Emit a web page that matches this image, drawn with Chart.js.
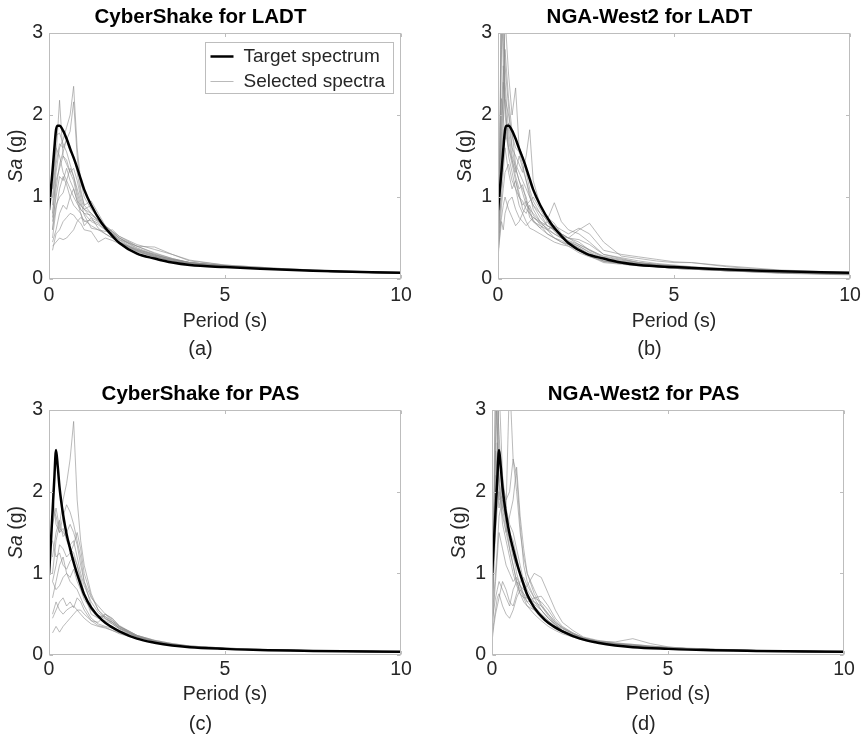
<!DOCTYPE html>
<html>
<head>
<meta charset="utf-8">
<script src="https://cdn.jsdelivr.net/npm/chart.js@4.4.1/dist/chart.umd.min.js"></script>
<style>
  body { margin: 0; background: #fff; overflow: hidden; width: 861px; height: 738px; position: relative; }
  canvas { position: absolute; }
</style>
</head>
<body>
<canvas id="pa" width="450" height="362" style="left:0;top:0"></canvas>
<canvas id="pb" width="450" height="362" style="left:449px;top:0"></canvas>
<canvas id="pc" width="450" height="361" style="left:0;top:377px"></canvas>
<canvas id="pd" width="450" height="361" style="left:443px;top:377px"></canvas>
<script>
// axis ticks
var tickX = [0, 5, 10];
var tickY = [0, 1, 2, 3];

// target spectra
var targetPeriods = [0, 0.05, 0.1, 0.15, 0.2, 0.25, 0.3, 0.4, 0.5, 0.6, 0.75, 0.9, 1.0, 1.2, 1.5, 1.75, 2.0, 2.5, 3.0, 3.5, 4.0, 5.0, 6.0, 7.5, 10];
var targetLADT = [0.84, 1.08, 1.32, 1.58, 1.82, 1.87, 1.87, 1.81, 1.71, 1.59, 1.42, 1.22, 1.09, 0.9, 0.68, 0.55, 0.44, 0.31, 0.25, 0.2, 0.17, 0.145, 0.125, 0.1, 0.075];
var targetPAS = [0.98, 1.35, 1.75, 2.15, 2.51, 2.3, 2.05, 1.72, 1.48, 1.3, 1.06, 0.86, 0.74, 0.58, 0.43, 0.35, 0.29, 0.2, 0.15, 0.115, 0.095, 0.075, 0.06, 0.05, 0.04];

// periods of the selected records
var csPeriods = [0.1, 0.2, 0.3, 0.4, 0.5, 0.6, 0.7, 0.8, 0.9, 1.0, 1.2, 1.4, 1.6, 1.8, 2.0, 2.5, 3.0, 3.5, 4.0, 5.0, 6.5, 8.0, 10];
var ngaPeriods = [0.01, 0.05, 0.1, 0.15, 0.2, 0.3, 0.4, 0.5, 0.6, 0.7, 0.8, 0.9, 1.0, 1.2, 1.4, 1.6, 1.8, 2.0, 2.3, 2.6, 3.0, 3.5, 4.0, 4.5, 5.0, 5.5, 6.5, 8.0, 10];

// (a) CyberShake for LADT
var csLADT = [
  [0.75, 1.3, 1.6, 1.7, 1.85, 2.0, 2.35, 1.6, 1.2, 1.0, 0.85, 0.75, 0.6, 0.52, 0.45, 0.35, 0.28, 0.23, 0.2, 0.16, 0.12, 0.095, 0.075],
  [1.0, 1.5, 2.18, 1.5, 1.45, 1.3, 1.2, 1.0, 0.85, 0.8, 0.7, 0.66, 0.6, 0.52, 0.45, 0.33, 0.27, 0.22, 0.19, 0.15, 0.12, 0.09, 0.07],
  [0.6, 1.1, 1.4, 1.55, 1.7, 1.8, 2.16, 1.5, 1.1, 0.9, 0.8, 0.7, 0.62, 0.55, 0.48, 0.36, 0.29, 0.24, 0.2, 0.16, 0.125, 0.095, 0.075],
  [1.2, 1.75, 1.78, 1.65, 1.55, 1.4, 1.25, 1.05, 0.9, 0.85, 0.75, 0.7, 0.62, 0.55, 0.47, 0.34, 0.27, 0.22, 0.19, 0.155, 0.12, 0.09, 0.07],
  [0.9, 1.4, 1.65, 1.6, 1.7, 1.55, 1.5, 1.3, 1.05, 0.9, 0.95, 0.8, 0.65, 0.58, 0.5, 0.38, 0.3, 0.24, 0.2, 0.16, 0.12, 0.095, 0.075],
  [0.8, 1.2, 1.35, 1.5, 1.4, 1.3, 1.35, 1.2, 1.0, 0.85, 0.8, 0.72, 0.62, 0.56, 0.5, 0.4, 0.32, 0.25, 0.2, 0.16, 0.12, 0.09, 0.07],
  [0.7, 1.0, 1.25, 1.2, 1.35, 1.2, 1.1, 0.95, 0.9, 0.85, 0.9, 0.75, 0.65, 0.58, 0.52, 0.42, 0.36, 0.3, 0.22, 0.17, 0.13, 0.1, 0.08],
  [0.5, 0.85, 1.1, 1.25, 1.15, 1.0, 0.9, 0.85, 0.8, 0.7, 0.72, 0.68, 0.6, 0.55, 0.48, 0.4, 0.39, 0.3, 0.23, 0.17, 0.13, 0.1, 0.08],
  [0.45, 0.6, 0.8, 0.9, 0.85, 1.0, 1.1, 0.95, 0.8, 0.65, 0.75, 0.62, 0.55, 0.5, 0.44, 0.35, 0.28, 0.22, 0.19, 0.155, 0.12, 0.09, 0.07],
  [0.4, 0.45, 0.5, 0.48, 0.5, 0.55, 0.6, 0.7, 0.75, 0.72, 0.65, 0.6, 0.55, 0.5, 0.45, 0.36, 0.3, 0.23, 0.19, 0.15, 0.12, 0.09, 0.07],
  [0.35, 0.55, 0.6, 0.7, 0.75, 0.8, 0.78, 0.72, 0.68, 0.6, 0.58, 0.45, 0.5, 0.47, 0.43, 0.34, 0.27, 0.22, 0.18, 0.15, 0.115, 0.09, 0.07],
  [1.1, 1.6, 1.5, 1.3, 1.2, 1.1, 1.0, 0.92, 0.85, 0.8, 0.78, 0.72, 0.64, 0.57, 0.5, 0.37, 0.29, 0.24, 0.2, 0.16, 0.12, 0.095, 0.075],
  [0.6, 0.9, 1.0, 1.05, 1.2, 1.35, 1.25, 1.1, 0.95, 0.78, 0.62, 0.6, 0.58, 0.6, 0.52, 0.4, 0.31, 0.25, 0.2, 0.16, 0.12, 0.09, 0.07]
];

// (b) NGA-West2 for LADT
var ngaLADT = [
  [0.6, 1.2, 3.4, 2.6, 2.0, 1.6, 1.4, 1.2, 1.0, 0.95, 0.85, 0.8, 0.75, 0.7, 0.6, 0.5, 0.45, 0.4, 0.32, 0.27, 0.22, 0.19, 0.17, 0.15, 0.13, 0.12, 0.1, 0.08, 0.06],
  [0.7, 1.5, 2.8, 3.5, 2.4, 1.8, 1.5, 1.35, 1.2, 1.05, 0.9, 0.85, 0.7, 0.62, 0.7, 0.58, 0.5, 0.45, 0.38, 0.3, 0.22, 0.2, 0.18, 0.16, 0.14, 0.13, 0.11, 0.08, 0.06],
  [0.5, 0.9, 1.6, 2.2, 3.2, 2.5, 2.0, 2.33, 1.6, 1.5, 1.3, 1.1, 0.95, 0.8, 0.65, 0.6, 0.55, 0.5, 0.42, 0.35, 0.26, 0.22, 0.19, 0.17, 0.15, 0.13, 0.11, 0.085, 0.065],
  [0.8, 1.3, 2.2, 2.0, 1.7, 1.9, 1.6, 1.5, 1.4, 1.3, 1.5, 1.82, 1.2, 0.9, 0.75, 0.68, 0.55, 0.5, 0.45, 0.35, 0.28, 0.24, 0.2, 0.18, 0.16, 0.14, 0.11, 0.085, 0.065],
  [0.4, 0.7, 1.2, 1.5, 1.8, 1.6, 1.45, 1.3, 1.5, 1.35, 1.2, 1.0, 0.9, 0.8, 0.72, 0.93, 0.7, 0.6, 0.55, 0.45, 0.3, 0.25, 0.2, 0.17, 0.15, 0.13, 0.11, 0.085, 0.065],
  [0.3, 0.55, 0.9, 1.1, 1.3, 1.4, 1.2, 1.1, 1.0, 0.9, 0.95, 0.85, 0.8, 0.7, 0.65, 0.6, 0.52, 0.5, 0.6, 0.68, 0.45, 0.28, 0.25, 0.22, 0.2, 0.2, 0.15, 0.1, 0.07],
  [0.65, 1.0, 1.8, 2.4, 2.1, 1.7, 1.45, 1.25, 1.1, 1.15, 0.95, 0.75, 0.7, 0.65, 0.6, 0.65, 0.6, 0.55, 0.62, 0.55, 0.35, 0.3, 0.27, 0.24, 0.21, 0.2, 0.16, 0.11, 0.08],
  [0.55, 0.8, 1.0, 1.3, 1.6, 1.3, 1.1, 1.2, 1.05, 0.85, 0.8, 0.9, 0.78, 0.66, 0.55, 0.5, 0.47, 0.42, 0.38, 0.3, 0.24, 0.21, 0.19, 0.17, 0.15, 0.14, 0.12, 0.09, 0.07],
  [0.75, 1.4, 3.6, 2.9, 2.2, 1.5, 1.3, 1.1, 0.9, 0.8, 0.7, 0.62, 0.6, 0.55, 0.5, 0.45, 0.42, 0.4, 0.35, 0.28, 0.2, 0.18, 0.16, 0.15, 0.13, 0.12, 0.1, 0.075, 0.055],
  [0.45, 0.6, 0.75, 0.9, 1.0, 0.85, 0.75, 0.65, 0.7, 0.8, 0.9, 0.95, 1.0, 0.85, 0.7, 0.6, 0.55, 0.5, 0.48, 0.42, 0.3, 0.26, 0.22, 0.19, 0.17, 0.15, 0.12, 0.09, 0.07],
  [0.6, 1.1, 2.0, 2.6, 2.2, 2.0, 1.75, 1.6, 1.55, 1.4, 1.2, 1.05, 0.85, 0.7, 0.6, 0.55, 0.5, 0.45, 0.4, 0.33, 0.25, 0.2, 0.18, 0.16, 0.14, 0.13, 0.1, 0.08, 0.06],
  [0.35, 0.5, 0.7, 0.6, 0.8, 0.95, 1.0, 0.85, 0.75, 0.7, 0.65, 0.7, 0.75, 0.68, 0.62, 0.55, 0.5, 0.46, 0.4, 0.32, 0.22, 0.19, 0.17, 0.15, 0.13, 0.12, 0.1, 0.075, 0.055],
  [0.5, 0.9, 1.4, 1.9, 2.8, 2.2, 1.8, 1.4, 1.3, 1.2, 1.1, 1.0, 0.9, 0.75, 0.65, 0.6, 0.52, 0.47, 0.42, 0.36, 0.27, 0.23, 0.2, 0.18, 0.16, 0.14, 0.11, 0.085, 0.065],
  [0.7, 1.6, 3.8, 3.2, 2.6, 2.1, 1.6, 1.35, 1.2, 1.1, 1.0, 0.8, 0.72, 0.62, 0.55, 0.5, 0.45, 0.42, 0.36, 0.29, 0.21, 0.19, 0.17, 0.15, 0.13, 0.12, 0.1, 0.07, 0.05]
];

// (c) CyberShake for PAS
var csPAS = [
  [1.0, 1.4, 1.6, 1.9, 2.1, 2.4, 2.86, 1.9, 1.4, 1.1, 0.75, 0.55, 0.45, 0.38, 0.32, 0.22, 0.17, 0.13, 0.11, 0.085, 0.06, 0.05, 0.04],
  [2.0, 1.6, 1.5, 1.7, 1.84, 1.75, 1.6, 1.4, 1.2, 0.9, 0.7, 0.6, 0.5, 0.42, 0.35, 0.24, 0.18, 0.14, 0.11, 0.085, 0.06, 0.05, 0.04],
  [1.6, 1.8, 1.55, 1.5, 1.45, 1.35, 1.4, 1.2, 1.0, 0.85, 0.65, 0.52, 0.45, 0.4, 0.33, 0.23, 0.17, 0.13, 0.105, 0.08, 0.06, 0.05, 0.04],
  [1.2, 1.5, 1.65, 1.45, 1.5, 1.6, 1.5, 1.35, 1.1, 0.9, 0.6, 0.48, 0.44, 0.4, 0.34, 0.23, 0.17, 0.13, 0.105, 0.08, 0.06, 0.05, 0.04],
  [0.9, 1.1, 1.35, 1.3, 1.2, 1.25, 1.35, 1.5, 1.3, 1.0, 0.72, 0.55, 0.47, 0.4, 0.33, 0.23, 0.17, 0.13, 0.105, 0.08, 0.06, 0.05, 0.04],
  [1.4, 1.2, 1.25, 1.1, 1.05, 1.15, 1.2, 1.1, 0.95, 0.75, 0.5, 0.45, 0.5, 0.44, 0.36, 0.24, 0.18, 0.14, 0.11, 0.085, 0.06, 0.05, 0.04],
  [0.7, 0.9, 1.1, 1.2, 1.0, 0.95, 1.05, 0.9, 0.8, 0.68, 0.55, 0.48, 0.47, 0.42, 0.35, 0.24, 0.17, 0.13, 0.105, 0.08, 0.06, 0.05, 0.04],
  [0.9, 0.8, 0.85, 0.95, 1.0, 0.9, 0.85, 0.8, 0.7, 0.6, 0.45, 0.38, 0.35, 0.33, 0.3, 0.22, 0.17, 0.13, 0.105, 0.08, 0.06, 0.045, 0.035],
  [0.45, 0.55, 0.65, 0.7, 0.6, 0.65, 0.58, 0.7, 0.65, 0.55, 0.42, 0.4, 0.5, 0.45, 0.35, 0.22, 0.16, 0.12, 0.1, 0.075, 0.055, 0.045, 0.035],
  [0.5, 0.65, 0.55, 0.5, 0.55, 0.58, 0.6, 0.55, 0.5, 0.45, 0.38, 0.35, 0.33, 0.3, 0.26, 0.2, 0.15, 0.12, 0.1, 0.075, 0.055, 0.045, 0.035],
  [0.27, 0.35, 0.28, 0.35, 0.4, 0.45, 0.5, 0.55, 0.55, 0.5, 0.42, 0.36, 0.34, 0.3, 0.27, 0.2, 0.15, 0.12, 0.1, 0.075, 0.055, 0.045, 0.035],
  [1.8, 1.7, 1.5, 1.55, 1.4, 1.3, 1.25, 1.1, 0.9, 0.75, 0.55, 0.45, 0.42, 0.38, 0.32, 0.22, 0.17, 0.13, 0.105, 0.08, 0.06, 0.045, 0.035]
];

// (d) NGA-West2 for PAS
var ngaPAS = [
  [0.9, 1.8, 3.5, 2.8, 2.2, 1.8, 1.5, 1.3, 1.1, 0.9, 0.8, 0.7, 0.6, 0.5, 0.42, 0.35, 0.3, 0.26, 0.22, 0.18, 0.15, 0.12, 0.1, 0.09, 0.08, 0.07, 0.06, 0.045, 0.035],
  [0.7, 1.5, 2.6, 3.6, 2.5, 1.9, 1.7, 1.5, 1.25, 1.0, 0.85, 0.75, 0.65, 0.55, 0.45, 0.38, 0.32, 0.28, 0.24, 0.2, 0.16, 0.13, 0.11, 0.1, 0.085, 0.075, 0.06, 0.045, 0.035],
  [0.5, 1.2, 2.0, 2.4, 3.3, 2.2, 1.8, 3.4, 2.4, 2.0, 1.5, 1.2, 1.0, 0.75, 0.6, 0.48, 0.38, 0.32, 0.26, 0.21, 0.17, 0.14, 0.12, 0.1, 0.09, 0.08, 0.065, 0.05, 0.04],
  [1.0, 1.6, 2.2, 2.0, 1.8, 2.1, 1.9, 2.0, 2.4, 2.2, 1.6, 1.1, 0.9, 0.7, 0.55, 0.45, 0.37, 0.3, 0.25, 0.2, 0.16, 0.13, 0.11, 0.1, 0.085, 0.075, 0.06, 0.045, 0.035],
  [0.6, 1.0, 1.5, 1.8, 2.0, 1.7, 1.5, 1.7, 1.9, 2.3, 1.7, 1.3, 1.0, 0.8, 0.62, 0.5, 0.4, 0.34, 0.27, 0.21, 0.17, 0.14, 0.12, 0.1, 0.09, 0.08, 0.065, 0.05, 0.04],
  [0.35, 0.6, 0.9, 1.2, 1.5, 1.3, 1.1, 1.0, 0.9, 0.95, 0.85, 0.8, 0.85, 1.0, 0.95, 0.75, 0.55, 0.4, 0.3, 0.22, 0.18, 0.15, 0.13, 0.11, 0.095, 0.085, 0.07, 0.05, 0.04],
  [0.8, 1.4, 2.4, 3.2, 2.7, 2.0, 1.6, 1.4, 1.2, 1.1, 1.0, 0.85, 0.75, 0.62, 0.55, 0.45, 0.38, 0.3, 0.24, 0.2, 0.16, 0.14, 0.13, 0.11, 0.09, 0.08, 0.065, 0.05, 0.04],
  [0.45, 0.7, 1.0, 1.3, 1.7, 1.9, 1.6, 1.3, 1.1, 0.9, 0.75, 0.7, 0.7, 0.65, 0.6, 0.5, 0.4, 0.33, 0.26, 0.2, 0.17, 0.16, 0.2, 0.14, 0.1, 0.08, 0.065, 0.05, 0.04],
  [0.25, 0.4, 0.55, 0.7, 0.75, 0.6, 0.5, 0.45, 0.55, 0.7, 0.8, 0.75, 0.7, 0.6, 0.5, 0.42, 0.35, 0.3, 0.24, 0.19, 0.15, 0.13, 0.11, 0.1, 0.085, 0.075, 0.06, 0.045, 0.035],
  [0.4, 0.55, 0.7, 0.8, 0.9, 0.8, 0.7, 0.6, 0.8, 0.9, 0.85, 0.72, 0.65, 0.7, 0.65, 0.55, 0.42, 0.33, 0.26, 0.2, 0.16, 0.13, 0.11, 0.1, 0.085, 0.075, 0.06, 0.045, 0.035],
  [0.6, 1.3, 3.2, 2.9, 2.1, 1.6, 1.4, 1.2, 1.0, 0.85, 0.75, 0.65, 0.6, 0.55, 0.48, 0.4, 0.33, 0.28, 0.23, 0.19, 0.15, 0.12, 0.1, 0.09, 0.08, 0.07, 0.055, 0.04, 0.03],
  [0.2, 0.35, 0.5, 0.6, 0.7, 0.9, 0.8, 0.65, 0.6, 0.75, 0.9, 0.95, 0.85, 0.7, 0.72, 0.6, 0.45, 0.35, 0.27, 0.21, 0.17, 0.14, 0.12, 0.1, 0.09, 0.08, 0.065, 0.05, 0.04],
  [0.9, 1.7, 2.5, 2.2, 1.9, 1.95, 1.8, 1.6, 1.5, 1.3, 1.1, 0.9, 0.8, 0.65, 0.55, 0.45, 0.37, 0.3, 0.24, 0.19, 0.15, 0.13, 0.11, 0.1, 0.085, 0.075, 0.06, 0.045, 0.035],
  [0.5, 1.1, 1.9, 2.6, 2.1, 1.8, 1.7, 1.5, 1.4, 1.2, 1.0, 0.85, 0.7, 0.58, 0.5, 0.42, 0.35, 0.3, 0.24, 0.19, 0.15, 0.12, 0.1, 0.09, 0.08, 0.07, 0.055, 0.045, 0.035]
];

var FONT = '"Liberation Sans", Arial, Helvetica, sans-serif';
var TEXT = '#262626';
var AXIS_SIZE = 19.5;

function toPoints(periods, vals) {
  return periods.map(function (t, i) { return { x: t, y: vals[i] }; });
}

// box, inward ticks, y label and the legend, MATLAB style
var framePlugin = {
  id: 'frame',
  afterDraw: function (chart, args, opts) {
    var ctx = chart.ctx, a = chart.chartArea;
    var sx = chart.scales.x, sy = chart.scales.y;
    var l = Math.round(a.left) + 0.5, r = Math.round(a.right) - 0.5;
    var t = Math.round(a.top) + 0.5, b = Math.round(a.bottom) - 0.5;
    ctx.save();
    ctx.strokeStyle = '#bdbdbd';
    ctx.lineWidth = 1;
    ctx.strokeRect(l, t, r - l, b - t);
    ctx.beginPath();
    tickX.forEach(function (v) {
      var px = Math.round(sx.getPixelForValue(v)) + 0.5;
      ctx.moveTo(px, b); ctx.lineTo(px, b - 3.5);
      ctx.moveTo(px, t); ctx.lineTo(px, t + 3.5);
    });
    tickY.forEach(function (v) {
      var py = Math.round(sy.getPixelForValue(v)) + 0.5;
      ctx.moveTo(l, py); ctx.lineTo(l + 3.5, py);
      ctx.moveTo(r, py); ctx.lineTo(r - 3.5, py);
    });
    ctx.stroke();

    // y axis label: italic Sa, upright (g)
    ctx.translate(16.5, (a.top + a.bottom) / 2);
    ctx.rotate(-Math.PI / 2);
    ctx.fillStyle = TEXT;
    ctx.textBaseline = 'middle';
    var f1 = 'italic ' + AXIS_SIZE + 'px ' + FONT, f2 = AXIS_SIZE + 'px ' + FONT;
    ctx.font = f1; var w1 = ctx.measureText('Sa').width;
    ctx.font = f2; var w2 = ctx.measureText(' (g)').width;
    var x0 = -(w1 + w2) / 2;
    ctx.font = f1; ctx.fillText('Sa', x0, 0);
    ctx.font = f2; ctx.fillText(' (g)', x0 + w1, 0);
    ctx.setTransform(1, 0, 0, 1, 0, 0);

    if (opts.legend) {
      var bw = 188, bh = 51;
      var bx = Math.round(a.right) - 8 - bw + 0.5, by = Math.round(a.top) + 9 + 0.5;
      ctx.fillStyle = '#fff';
      ctx.fillRect(bx, by, bw, bh);
      ctx.strokeStyle = '#bdbdbd';
      ctx.strokeRect(bx, by, bw, bh);
      ctx.lineWidth = 2.5; ctx.strokeStyle = '#000';
      ctx.beginPath(); ctx.moveTo(bx + 5, by + 14); ctx.lineTo(bx + 28, by + 14); ctx.stroke();
      ctx.lineWidth = 1; ctx.strokeStyle = 'rgba(140,140,140,0.6)';
      ctx.beginPath(); ctx.moveTo(bx + 5, by + 39); ctx.lineTo(bx + 28, by + 39); ctx.stroke();
      ctx.fillStyle = TEXT;
      ctx.font = '19px ' + FONT;
      ctx.textBaseline = 'middle';
      ctx.fillText('Target spectrum', bx + 38, by + 14);
      ctx.fillText('Selected spectra', bx + 38, by + 39);
    }
    ctx.restore();
  }
};

function makePanel(id, title, tag, target, periods, records, row, legend) {
  var datasets = [{
    data: toPoints(targetPeriods, target),
    borderColor: '#000',
    borderWidth: 2.5,
    pointRadius: 0,
    cubicInterpolationMode: 'monotone',
    order: 0
  }];
  records.forEach(function (vals) {
    datasets.push({
      data: toPoints(periods, vals),
      borderColor: 'rgba(140,140,140,0.6)',
      borderWidth: 1,
      pointRadius: 0,
      tension: 0,
      order: 1
    });
  });

  new Chart(document.getElementById(id), {
    type: 'line',
    data: { datasets: datasets },
    options: {
      responsive: false,
      animation: false,
      devicePixelRatio: 1,
      layout: { padding: { left: 0, right: 49, top: 0, bottom: 0 } },
      plugins: {
        legend: { display: false },
        tooltip: { enabled: false },
        title: {
          display: true,
          text: title,
          color: '#000',
          font: { family: FONT, size: 20.5, weight: 'bold', lineHeight: 1 },
          padding: { top: 7.25, bottom: 5.25 }
        },
        subtitle: {
          display: true,
          position: 'bottom',
          text: tag,
          color: TEXT,
          font: { family: FONT, size: 20, lineHeight: 1 },
          padding: { top: row.subTop, bottom: row.subBottom }
        },
        frame: { legend: legend }
      },
      scales: {
        x: {
          type: 'linear',
          min: 0,
          max: 10,
          ticks: { stepSize: 5, padding: row.tickPad, color: TEXT, font: { family: FONT, size: AXIS_SIZE, lineHeight: 1 }, maxRotation: 0 },
          grid: { display: false, drawTicks: false },
          border: { display: false },
          title: {
            display: true,
            text: 'Period (s)',
            color: TEXT,
            font: { family: FONT, size: AXIS_SIZE, lineHeight: 1 },
            padding: { top: 0, bottom: row.xlPad }
          },
          afterFit: function (s) { s.height = row.axisH; }
        },
        y: {
          type: 'linear',
          min: 0,
          max: 3,
          ticks: { stepSize: 1, padding: 6, color: TEXT, font: { family: FONT, size: AXIS_SIZE, lineHeight: 1 } },
          grid: { display: false, drawTicks: false },
          border: { display: false },
          afterFit: function (s) { s.width = 49; }
        }
      }
    },
    plugins: [framePlugin]
  });
}

var topRow = { tickPad: 7.25, axisH: 60, xlPad: 7.25, subTop: 0, subBottom: 3 };
var bottomRow = { tickPad: 5.25, axisH: 58, xlPad: 8.25, subTop: 1, subBottom: 4 };

makePanel('pa', 'CyberShake for LADT', '(a)', targetLADT, csPeriods, csLADT, topRow, true);
makePanel('pb', 'NGA-West2 for LADT', '(b)', targetLADT, ngaPeriods, ngaLADT, topRow, false);
makePanel('pc', 'CyberShake for PAS', '(c)', targetPAS, csPeriods, csPAS, bottomRow, false);
makePanel('pd', 'NGA-West2 for PAS', '(d)', targetPAS, ngaPeriods, ngaPAS, bottomRow, false);
</script>
</body>
</html>
